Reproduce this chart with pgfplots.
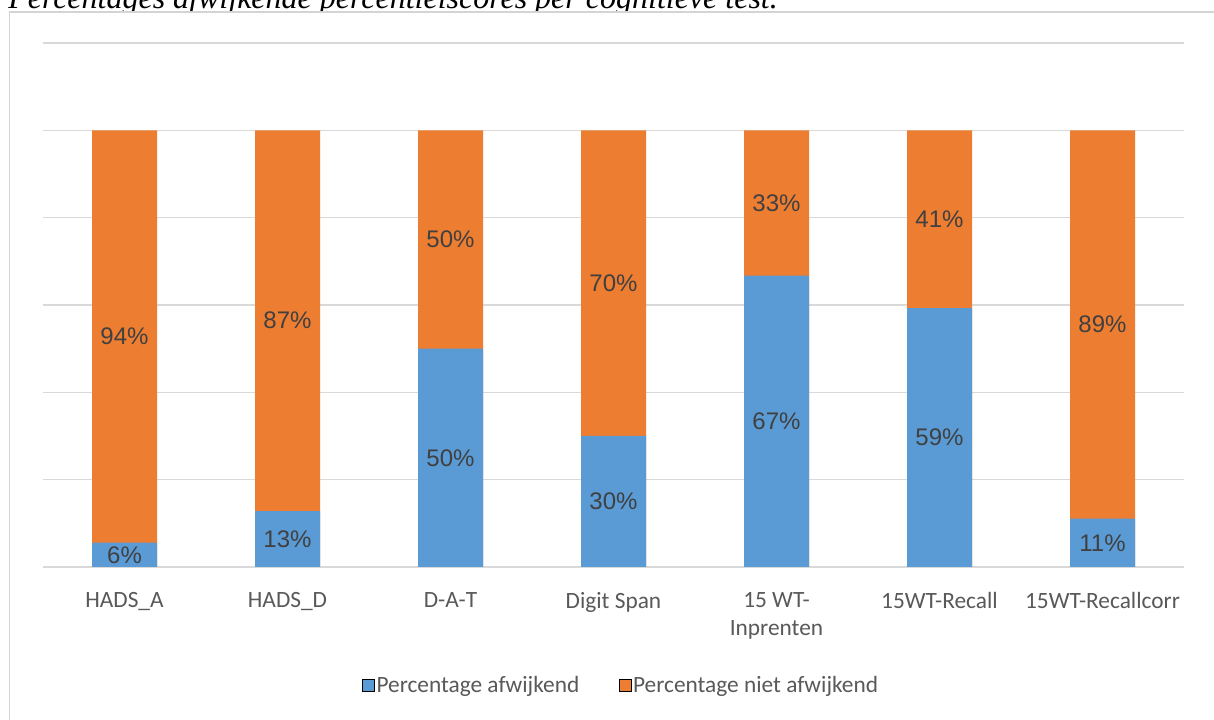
\documentclass[border=0pt]{standalone}
\usepackage{fontspec}
\setmainfont{Liberation Serif}
\newfontfamily\carlito{Carlito}
\newfontfamily\libsans{Liberation Sans}
\usepackage{pgfplots}
\usepackage{pgfplotstable}
\pgfplotsset{compat=1.18}
\definecolor{blueX}{HTML}{5B9BD5}
\definecolor{orangeX}{HTML}{ED7D31}
\definecolor{gridgray}{HTML}{D9D9D9}
\definecolor{boxgray}{HTML}{D4D4D4}
\definecolor{ticktext}{HTML}{595959}
\definecolor{labeltext}{HTML}{404040}
\pgfplotstableread{
x blue orange
0 5.6 94.4
1 12.8 87.2
2 50 50
3 30 70
4 66.7 33.3
5 59.3 40.7
6 11.1 88.9
}\datatable
\begin{document}
\begin{tikzpicture}
\useasboundingbox (0,0) rectangle (910.5pt,540pt);
\clip (0,0) rectangle (910.5pt,540pt);
% title (partly cut off at the top)
\node[anchor=base west, inner sep=0pt, font=\itshape\fontsize{24}{28}\selectfont] at (6pt,533.25pt) {Percentages afwijkende percentielscores per cognitieve test.};
% chart box
\fill[white] (7.1pt,531pt) rectangle (930pt,-20pt);
\draw[boxgray, line width=1.1pt] (7.1pt,-20pt) -- (7.1pt,531pt) -- (930pt,531pt);
\begin{axis}[
  at={(32.25pt,114.75pt)}, anchor=south west,
  scale only axis, width=855.75pt, height=393pt,
  ybar, bar width=48.75pt, bar shift=0pt,
  xmin=-0.5, xmax=6.5, ymin=0, ymax=120,
  xtick={0,...,6},
  xticklabels={HADS\_A, HADS\_D, D-A-T, Digit Span, {15 WT-\\Inprenten}, 15WT-Recall, 15WT-Recallcorr},
  xticklabel style={anchor=north, inner sep=0pt, yshift=-19pt, align=center,
    font=\carlito\fontsize{17.5}{21}\selectfont, text=ticktext},
  ytick={0,20,...,120}, yticklabels={},
  ymajorgrids, grid style={draw=gridgray, line width=1.1pt},
  axis line style={draw=none}, tick style={draw=none},
  major tick length=0pt,
  legend image code/.code={\fill[#1] (0pt,-4.5pt) rectangle (9pt,4.5pt);},
  legend style={at={(0.5066,-0.2252)}, anchor=center, draw=none, fill=none,
    legend columns=2, font=\carlito\fontsize{17.5}{21}\selectfont, text=ticktext,
    nodes={inner sep=1.5pt},
    /tikz/every even column/.append style={column sep=28pt}},
]
\addplot[fill=orangeX, draw=none, forget plot] table[x=x, y expr=\thisrow{blue}+\thisrow{orange}] {\datatable};
\addplot[fill=blueX, draw=none, forget plot] table[x=x, y=blue] {\datatable};
\addplot[only marks, mark=none, forget plot, point meta=explicit,
  nodes near coords={\pgfmathprintnumber[fixed,precision=0,assume math mode=true]{\pgfplotspointmeta}\%},
  every node near coord/.style={anchor=center, inner sep=0pt, font=\libsans\fontsize{18}{20}\selectfont, text=labeltext}]
  table[x=x, y expr=0.5*\thisrow{blue}, meta=blue] {\datatable};
\addplot[only marks, mark=none, forget plot, point meta=explicit,
  nodes near coords={\pgfmathprintnumber[fixed,precision=0,assume math mode=true]{\pgfplotspointmeta}\%},
  every node near coord/.style={anchor=center, inner sep=0pt, font=\libsans\fontsize{18}{20}\selectfont, text=labeltext}]
  table[x=x, y expr=\thisrow{blue}+0.5*\thisrow{orange}, meta=orange] {\datatable};
\addlegendimage{fill=blueX}
\addlegendentry{Percentage afwijkend}
\addlegendimage{fill=orangeX}
\addlegendentry{Percentage niet afwijkend}
\end{axis}
\end{tikzpicture}
\end{document}
